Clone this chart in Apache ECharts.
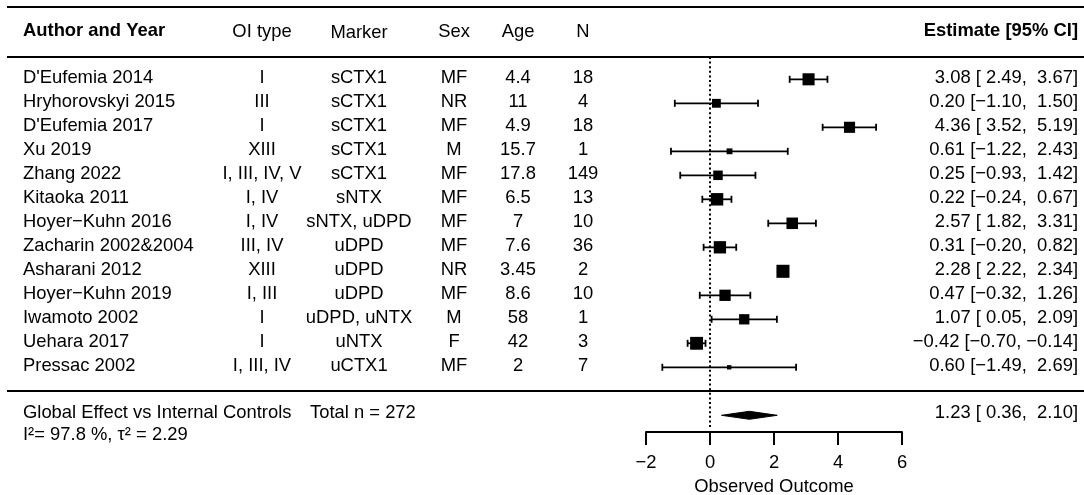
<!DOCTYPE html>
<html><head><meta charset="utf-8">
<script src="https://cdn.jsdelivr.net/npm/echarts@6/dist/echarts.min.js"></script>
<style>html,body{margin:0;padding:0;background:#fff}#c{width:1084px;height:495px}</style>
</head><body><div id="c"></div>
<script>
// ---- data ----
const authors = ["D'Eufemia 2014","Hryhorovskyi 2015","D'Eufemia 2017","Xu 2019","Zhang 2022","Kitaoka 2011","Hoyer\u2212Kuhn 2016","Zacharin 2002&2004","Asharani 2012","Hoyer\u2212Kuhn 2019","Iwamoto 2002","Uehara 2017","Pressac 2002"];
const oiType = ["I","III","I","XIII","I, III, IV, V","I, IV","I, IV","III, IV","XIII","I, III","I","I","I, III, IV"];
const markers = ["sCTX1","sCTX1","sCTX1","sCTX1","sCTX1","sNTX","sNTX, uDPD","uDPD","uDPD","uDPD","uDPD, uNTX","uNTX","uCTX1"];
const sex = ["MF","NR","MF","M","MF","MF","MF","MF","NR","MF","M","F","MF"];
const age = ["4.4","11","4.9","15.7","17.8","6.5","7","7.6","3.45","8.6","58","42","2"];
const nSubjects = [18,4,18,1,149,13,10,36,2,10,1,3,7];
const estimate = [3.08,0.20,4.36,0.61,0.25,0.22,2.57,0.31,2.28,0.47,1.07,-0.42,0.60];
const ciLower = [2.49,-1.10,3.52,-1.22,-0.93,-0.24,1.82,-0.20,2.22,-0.32,0.05,-0.70,-1.49];
const ciUpper = [3.67,1.50,5.19,2.43,1.42,0.67,3.31,0.82,2.34,1.26,2.09,-0.14,2.69];
const weights = [8.23,7.17,7.92,6.20,7.39,8.35,8.05,8.31,8.55,7.98,7.65,8.48,5.71];
const summaryEst = [1.23];
const summaryLower = [0.36];
const summaryUpper = [2.10];
const totalN = 272;
const i2 = 97.8;
const tau2 = 2.29;
const xTicks = [-2, 0, 2, 4, 6];

// ---- layout / style ----
const FONT = '"Liberation Sans", Arial, Helvetica, sans-serif';
const FS = 18.4;
const ROW_PX = 24, ROW0_PX = 79.3;
const Y_MIN = -3, Y_MAX = 14.7;
const SUMMARY_ROW = 14;
const TXT_DY = -1.8;
const S = 8.7;
const wMin = Math.min(...weights), wMax = Math.max(...weights);

function fmt(v){ return (v < 0 ? '\u2212' : ' ') + Math.abs(v).toFixed(2); }
function ciText(e,l,u){ return fmt(e) + ' [' + fmt(l) + ', ' + fmt(u) + ']'; }

const COLS = [
  {x:23, align:'left', get:i=>authors[i]},
  {x:262, align:'center', get:i=>oiType[i]},
  {x:359, align:'center', get:i=>markers[i]},
  {x:454, align:'center', get:i=>sex[i]},
  {x:518, align:'center', get:i=>age[i]},
  {x:583, align:'center', get:i=>String(nSubjects[i])},
  {x:1078, align:'right', get:i=>ciText(estimate[i], ciLower[i], ciUpper[i])}
];

const chart = echarts.init(document.getElementById('c'));
const gridTop = ROW0_PX + Y_MIN*ROW_PX;
const gridBottomPx = ROW0_PX + Y_MAX*ROW_PX;

function txt(x, y, text, align, bold){
  return {type:'text', x, y, style:{text, fill:'#000', fontSize:FS, fontFamily:FONT, fontWeight: bold?'bold':'normal', align, verticalAlign:'middle'}};
}
function hline(y){
  return {type:'line', shape:{x1:7, y1:y, x2:1084, y2:y}, style:{stroke:'#000', lineWidth:2}};
}

chart.setOption({
  animation:false,
  backgroundColor:'#fff',
  grid:{left:646, right:1084-902, top:gridTop, bottom:495-gridBottomPx, containLabel:false, outerBoundsMode:'none'},
  xAxis:{type:'value', min:xTicks[0], max:xTicks[xTicks.length-1], interval:2,
    axisLine:{show:true, onZero:false, lineStyle:{color:'#000', width:2}},
    axisTick:{show:true, inside:false, length:13, lineStyle:{color:'#000', width:2}},
    axisLabel:{color:'#000', fontSize:FS, fontFamily:FONT, margin:22, formatter:v=> v<0 ? '\u2212'+Math.abs(v) : String(v)},
    splitLine:{show:false},
    name:'Observed Outcome', nameLocation:'middle', nameGap:46,
    nameTextStyle:{color:'#000', fontSize:FS, fontFamily:FONT}
  },
  yAxis:{type:'value', inverse:true, min:Y_MIN, max:Y_MAX, show:false, splitLine:{show:false}},
  graphic:[
    hline(7), hline(57), hline(391),
    txt(23, 31, 'Author and Year', 'left', true),
    txt(262, 32, 'OI type', 'center'),
    txt(359, 32.5, 'Marker', 'center'),
    txt(454, 32, 'Sex', 'center'),
    txt(518, 32, 'Age', 'center'),
    txt(583, 32, 'N', 'center'),
    txt(1078, 31, 'Estimate [95% CI]', 'right', true),
    txt(23, 413, 'Global Effect vs Internal Controls', 'left'),
    txt(310, 413, 'Total n = ' + totalN, 'left'),
    txt(23, 435, 'I\u00b2= ' + i2 + ' %, \u03c4\u00b2 = ' + tau2, 'left'),
    txt(1078, 413, ciText(summaryEst[0], summaryLower[0], summaryUpper[0]), 'right')
  ],
  series:[
    {type:'custom', clip:false, silent:true, data:[[0, -1]],
      encode:{x:0, y:1},
      renderItem:(p, api)=>{
        const a = api.coord([0, -1]), b = api.coord([0, 14.5]);
        return {type:'line', shape:{x1:a[0], y1:57, x2:b[0], y2:b[1]}, style:{stroke:'#000', lineWidth:2, lineDash:[2, 2.6]}};
      }
    },
    {type:'custom', clip:false, silent:true,
      data: authors.map((_, i)=>[0, i]),
      encode:{x:0, y:1},
      renderItem:(p, api)=>{
        const i = api.value(1);
        const y = api.coord([0, i])[1] + TXT_DY;
        return {type:'group', children: COLS.map(c=>({type:'text', x:c.x, y,
          style:{text:c.get(i), fill:'#000', fontSize:FS, fontFamily:FONT, align:c.align, verticalAlign:'middle'}}))};
      }
    },
    {type:'custom', clip:false, silent:true,
      data: estimate.map((e, i)=>[e, ciLower[i], ciUpper[i], i, weights[i]]),
      encode:{x:[0,1,2], y:3},
      renderItem:(p, api)=>{
        const e=api.value(0), l=api.value(1), u=api.value(2), i=api.value(3), w=api.value(4);
        const pE=api.coord([e,i]), pL=api.coord([l,i]), pU=api.coord([u,i]);
        const s = S*(0.5 + (w - wMin)/(wMax - wMin));
        const ls = {stroke:'#000', lineWidth:1.8};
        return {type:'group', children:[
          {type:'line', shape:{x1:pL[0], y1:pL[1], x2:pU[0], y2:pU[1]}, style:ls},
          {type:'line', shape:{x1:pL[0], y1:pL[1]-3.5, x2:pL[0], y2:pL[1]+3.5}, style:ls},
          {type:'line', shape:{x1:pU[0], y1:pU[1]-3.5, x2:pU[0], y2:pU[1]+3.5}, style:ls},
          {type:'rect', shape:{x:pE[0]-s/2, y:pE[1]-s/2, width:s, height:s}, style:{fill:'#000'}}
        ]};
      }
    },
    {type:'custom', clip:false, silent:true,
      data: summaryEst.map((e, i)=>[e, summaryLower[i], summaryUpper[i], SUMMARY_ROW]),
      encode:{x:[0,1,2], y:3},
      renderItem:(p, api)=>{
        const e=api.value(0), l=api.value(1), u=api.value(2), r=api.value(3);
        const pE=api.coord([e,r]), pL=api.coord([l,r]), pU=api.coord([u,r]);
        const h = 4;
        return {type:'polygon', shape:{points:[[pL[0],pL[1]],[pE[0],pE[1]-h],[pU[0],pU[1]],[pE[0],pE[1]+h]]}, style:{fill:'#000', stroke:'#000', lineWidth:1}};
      }
    }
  ]
});
</script>
</body></html>
